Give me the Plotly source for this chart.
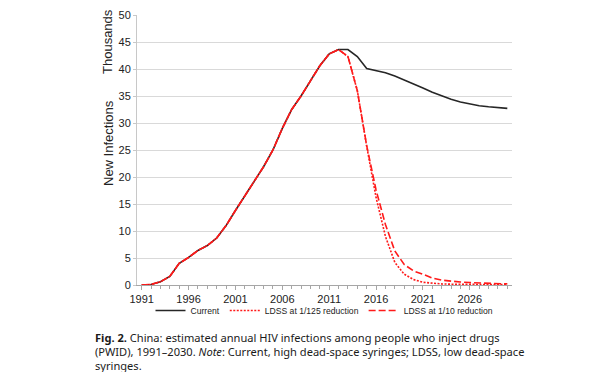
import plotly.graph_objects as go

years = list(range(1991, 2031))

current = [0.0, 0.1, 0.6, 1.6, 4.0, 5.1, 6.4, 7.3, 8.7, 11.0, 13.8, 16.5, 19.0, 21.9, 25.0, 29.0,
           32.5, 35.0, 37.8, 40.6, 42.8, 43.6, 43.6, 42.3, 40.1, 39.7, 39.3, 38.7, 38.0, 37.3,
           36.5, 35.7, 35.0, 34.4, 33.9, 33.5, 33.2, 33.0, 32.9, 32.7]

ldss_125 = current[:22] + [42.3, 36.0, 25.7, 16.2, 9.0, 4.2, 2.0, 1.0, 0.5, 0.3, 0.2, 0.15,
                           0.1, 0.1, 0.1, 0.1, 0.1, 0.1]

ldss_10 = current[:22] + [42.3, 36.0, 25.8, 17.6, 11.2, 6.3, 3.8, 2.6, 2.0, 1.3, 0.9, 0.7,
                          0.55, 0.45, 0.4, 0.3, 0.25, 0.2]

series_names = ["Current", "LDSS at 1/125 reduction", "LDSS at 1/10 reduction"]
x_ticks = [1991, 1996, 2001, 2006, 2011, 2016, 2021, 2026]
y_ticks = [0, 5, 10, 15, 20, 25, 30, 35, 40, 45, 50]

caption_lines = [
    "<b>Fig. 2.</b> China: estimated annual HIV infections among people who inject drugs",
    "(PWID), 1991–2030. <i>Note</i>: Current, high dead-space syringes; LDSS, low dead-space",
    "syringes.",
]

fig = go.Figure()
fig.add_trace(go.Scatter(x=years, y=current, name=series_names[0], mode="lines",
                         line=dict(color="#262626", width=1.6)))
fig.add_trace(go.Scatter(x=years, y=ldss_125, name=series_names[1], mode="lines",
                         line=dict(color="#ff1a1a", width=1.6, dash="2px,1.5px")))
fig.add_trace(go.Scatter(x=years, y=ldss_10, name=series_names[2], mode="lines",
                         line=dict(color="#ff1a1a", width=1.6, dash="7px,3px")))

axis_font = dict(family="Liberation Sans, Arial, sans-serif", size=11, color="#222222")

# page body has an 8px margin, so the figure is offset by 8px; margins compensate
fig.update_layout(
    width=615, height=372,
    margin=dict(l=129, r=111, t=7, b=95, autoexpand=False),
    paper_bgcolor="white", plot_bgcolor="white",
    font=axis_font,
    showlegend=True,
    legend=dict(orientation="h", x=0.5, xanchor="center", y=(285 - 310.5) / 270, yanchor="middle",
                font=dict(family="Liberation Sans, Arial, sans-serif", size=8.6, color="#222222"),
                itemwidth=30, tracegroupgap=0, bgcolor="rgba(0,0,0,0)"),
    xaxis=dict(range=[1990.5, 2030.5], tickmode="array", tickvals=x_ticks,
               ticktext=[str(v) for v in x_ticks], showgrid=False, zeroline=False,
               showline=True, linecolor="#a6a6a6", linewidth=1,
               ticks="outside", ticklen=4, tickcolor="#a6a6a6",
               minor=dict(dtick=1, tick0=1991, ticks="outside", ticklen=3, tickcolor="#a6a6a6",
                          showgrid=False),
               tickfont=axis_font),
    yaxis=dict(range=[0, 50], tickmode="array", tickvals=y_ticks, showgrid=True,
               gridcolor="#d9d9d9", gridwidth=1, zeroline=False,
               showline=True, linecolor="#c8c8c8", linewidth=1,
               ticks="outside", ticklen=3, tickcolor="#c8c8c8",
               tickfont=axis_font),
)

title_font = dict(family="Liberation Sans, Arial, sans-serif", size=13, color="#222222")
fig.add_annotation(text="Thousands", xref="paper", yref="paper", x=(108 - 137) / 375, y=(285 - 42) / 270,
                   textangle=-90, showarrow=False, font=title_font, xanchor="center", yanchor="middle")
fig.add_annotation(text="New Infections", xref="paper", yref="paper", x=(108 - 137) / 375, y=(285 - 143) / 270,
                   textangle=-90, showarrow=False, font=title_font, xanchor="center", yanchor="middle")

cap_font = dict(family="Noto Sans, sans-serif", size=11.1, color="#1a1a1a")
for i, line in enumerate(caption_lines):
    fig.add_annotation(text=line, xref="paper", yref="paper",
                       x=(93 - 137) / 375, y=(285 - (337 + 14 * i)) / 270,
                       xanchor="left", yanchor="middle", showarrow=False, font=cap_font, align="left")

fig.write_html("out.html")
